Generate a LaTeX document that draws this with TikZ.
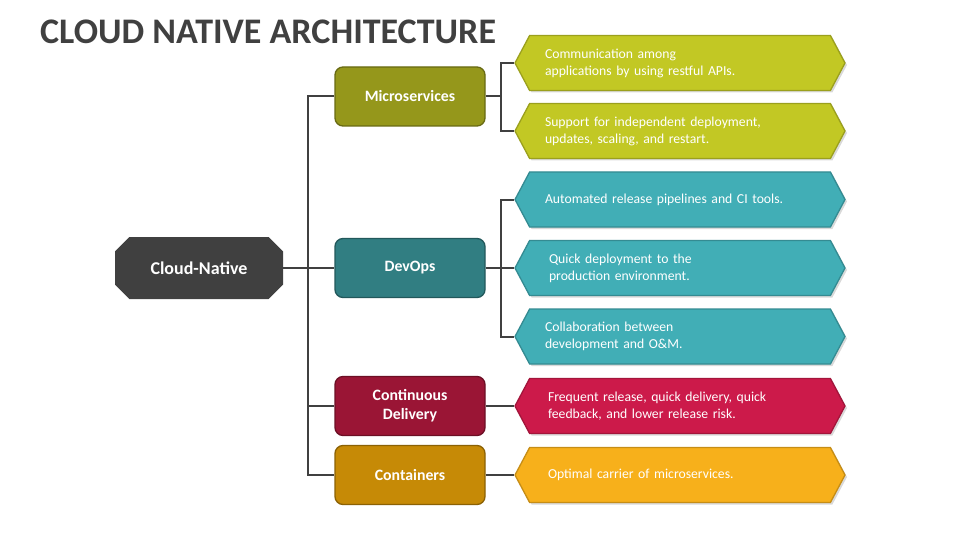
\documentclass[tikz,border=0pt]{standalone}
\usepackage{fontspec}
\setmainfont{Carlito}
\usetikzlibrary{shapes.symbols,shapes.misc,shadows}

\definecolor{darkgrey}{HTML}{404040}
\definecolor{olivedark}{HTML}{95971B}
\definecolor{olivelight}{HTML}{C2C824}
\definecolor{tealdark}{HTML}{317E82}
\definecolor{teallight}{HTML}{41AEB6}
\definecolor{wine}{HTML}{9A1535}
\definecolor{crimson}{HTML}{CC1A4A}
\definecolor{ochre}{HTML}{C68A06}
\definecolor{amber}{HTML}{F7B01B}

\tikzset{
  topic/.style={rounded corners=8pt, draw=#1!70!black, fill=#1, line width=1.3pt,
    minimum width=150pt, minimum height=59pt, text=white, font=\fontsize{15.8}{19}\selectfont\bfseries,
    align=center},
  point/.style={signal, signal to=west and east, signal pointer angle=124,
    draw=#1!80!black, fill=#1, line width=1.3pt, minimum width=330pt, minimum height=55pt,
    text=white, font=\fontsize{13.7}{17}\selectfont, align=left, text width=270pt,
    drop shadow={shadow xshift=2pt, shadow yshift=-2pt, opacity=0.3}},
  link/.style={draw=darkgrey, line width=2pt}
}

\begin{document}
\begin{tikzpicture}[x=1pt,y=-1pt]
  \useasboundingbox (0,0) rectangle (960,540);
  \node[anchor=base west, text=darkgrey, font=\fontsize{36}{42}\selectfont\bfseries, inner sep=0pt] (title) at (40,44) {CLOUD NATIVE ARCHITECTURE};

  % root and topics
  \node[fill=darkgrey, chamfered rectangle, chamfered rectangle xsep=8pt, chamfered rectangle ysep=8pt,
    minimum width=168pt, minimum height=62pt, inner sep=0pt, text=white,
    font=\fontsize{18}{20}\selectfont\bfseries] (cn) at (199,268) {Cloud-Native};
  \node[topic=olivedark] (ms) at (410,96.5) {Microservices};
  \node[topic=tealdark] (dv) at (410,268) {DevOps};
  \node[topic=wine] (cd) at (410,406) {Continuous\\Delivery};
  \node[topic=ochre] (ct) at (410,475) {Containers};

  % points
  \node[point=olivelight] (ms1) at (680,63) {Communication among\\applications by using restful APIs.};
  \node[point=olivelight] (ms2) at (680,131) {Support for independent deployment,\\updates, scaling, and restart.};
  \node[point=teallight] (dv1) at (680,199.5) {Automated release pipelines and CI tools.};
  \node[point=teallight] (dv2) at (680,268) {\hspace*{4pt}Quick deployment to the\\\hspace*{4pt}production environment.};
  \node[point=teallight] (dv3) at (680,336.5) {Collaboration between\\development and O\&M.};
  \node[point=crimson] (cd1) at (680,406) {\hspace*{3pt}Frequent release, quick delivery, quick\\\hspace*{3pt}feedback, and lower release risk.};
  \node[point=amber] (ct1) at (680,475) {\hspace*{3pt}Optimal carrier of microservices.};

  % connectors
  \coordinate (trunk) at (308,268);
  \draw[link] (cn.east) -- (dv.west);
  \draw[link] (ms.west) -| (trunk) |- (ct.west);
  \draw[link] (cd.west) -- (cd.west -| trunk);
  \draw[link] (ms.east) -- ++(15,0);
  \draw[link] (ms1.west) -| ([xshift=15pt]ms.east) |- (ms2.west);
  \draw[link] (dv.east) -- (dv2.west);
  \draw[link] (dv1.west) -| ([xshift=15pt]dv.east) |- (dv3.west);
  \draw[link] (cd.east) -- (cd1.west);
  \draw[link] (ct.east) -- (ct1.west);
\end{tikzpicture}
\end{document}
